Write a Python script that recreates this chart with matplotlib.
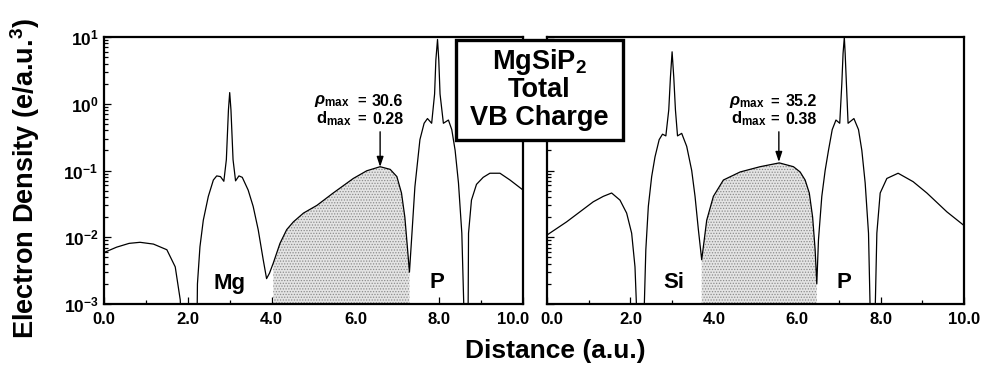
import matplotlib
matplotlib.use("Agg")
import matplotlib.pyplot as plt
import numpy as np
from matplotlib import font_manager
from matplotlib.patches import Rectangle
from matplotlib.transforms import ScaledTranslation
from matplotlib.ticker import LogLocator, MultipleLocator, FormatStrFormatter, NullFormatter

# ---------------- data ----------------
# left panel (Mg - P bond direction)
x_left = [0.0, 0.30, 0.60, 0.86, 1.18, 1.50, 1.70, 1.82, 1.95, 2.19, 2.23, 2.29, 2.37, 2.49, 2.61,
          2.69, 2.78, 2.86, 2.92, 2.97, 3.00, 3.03, 3.08, 3.14, 3.22, 3.30, 3.44, 3.56, 3.68,
          3.80, 3.88, 3.95, 4.04, 4.20, 4.36, 4.52, 4.76, 5.08, 5.47, 5.95, 6.27, 6.59, 6.83,
          6.99, 7.10, 7.18, 7.24, 7.29, 7.35, 7.42, 7.54, 7.64, 7.72, 7.82, 7.89, 7.92, 7.96,
          7.99, 8.02, 8.10, 8.22, 8.30, 8.38, 8.46, 8.54, 8.59, 8.65, 8.69, 8.70, 8.77, 8.89,
          9.05, 9.21, 9.45, 9.69, 10.0]
y_left = [0.0059, 0.0071, 0.0081, 0.0084, 0.0079, 0.0065, 0.0036, 0.00115, 1e-5, 1e-5, 0.0020, 0.0072,
          0.018, 0.041, 0.072, 0.083, 0.081, 0.069, 0.145, 0.81, 1.47, 0.81, 0.145, 0.070,
          0.083, 0.079, 0.051, 0.029, 0.013, 0.0046, 0.0024, 0.0029, 0.0041, 0.0081, 0.013,
          0.017, 0.023, 0.030, 0.046, 0.076, 0.099, 0.114, 0.104, 0.081, 0.046, 0.020, 0.0072,
          0.0030, 0.0115, 0.057, 0.29, 0.51, 0.60, 0.51, 1.4, 4.5, 9.2, 4.5, 1.4, 0.51, 0.57,
          0.41, 0.20, 0.065, 0.0115, 0.0008, 1e-5, 0.0008, 0.0115, 0.036, 0.062, 0.079, 0.091,
          0.091, 0.072, 0.051]
fill_left = (4.0, 7.29)

# right panel (Si - P bond direction)
x_right = [0.0, 0.47, 1.11, 1.35, 1.55, 1.75, 1.91, 2.03, 2.11, 2.15, 2.24, 2.33, 2.37, 2.43, 2.51,
           2.59, 2.69, 2.77, 2.85, 2.92, 2.96, 3.00, 3.04, 3.08, 3.13, 3.23, 3.35, 3.47, 3.55,
           3.63, 3.71, 3.77, 3.83, 3.99, 4.23, 4.63, 5.11, 5.57, 5.91, 6.07, 6.19, 6.29, 6.37,
           6.43, 6.47, 6.51, 6.59, 6.67, 6.75, 6.84, 6.93, 7.02, 7.07, 7.10, 7.13, 7.15, 7.18,
           7.22, 7.36, 7.47, 7.55, 7.63, 7.71, 7.75, 7.81, 7.87, 7.91, 7.99, 8.15, 8.42, 8.78,
           9.11, 9.59, 10.0]
y_right = [0.0108, 0.017, 0.034, 0.041, 0.046, 0.036, 0.023, 0.0115, 0.0036, 0.0008, 1e-5, 0.0008,
           0.0065, 0.029, 0.081, 0.16, 0.29, 0.35, 0.33, 0.81, 2.5, 6.0, 2.5, 0.81, 0.33, 0.36,
           0.23, 0.10, 0.041, 0.013, 0.0046, 0.0091, 0.018, 0.041, 0.072, 0.095, 0.114, 0.13,
           0.114, 0.095, 0.072, 0.046, 0.020, 0.0065, 0.0020, 0.0091, 0.041, 0.10, 0.20, 0.41,
           0.57, 0.51, 2.0, 5.7, 9.9, 5.7, 2.0, 0.51, 0.60, 0.41, 0.20, 0.065, 0.0115, 0.0008,
           1e-5, 0.0008, 0.0115, 0.046, 0.076, 0.091, 0.068, 0.046, 0.024, 0.015]
fill_right = (3.71, 6.47)

atoms_left = [("Mg", 2.99), ("P", 7.94)]
atoms_right = [("Si", 3.03), ("P", 7.11)]
ann_left = {"rho": "30.6", "d": "0.28", "xpeak": 6.59, "ypeak": 0.113}
ann_right = {"rho": "35.2", "d": "0.38", "xpeak": 5.56, "ypeak": 0.134}

# ---------------- fonts ----------------
names = {f.name for f in font_manager.fontManager.ttflist}
main_font = "Liberation Sans" if "Liberation Sans" in names else "DejaVu Sans"
narrow_font = "Liberation Sans Narrow" if "Liberation Sans Narrow" in names else main_font
plt.rcParams["font.family"] = [main_font, "DejaVu Sans"]
plt.rcParams["font.weight"] = "bold"
plt.rcParams["mathtext.fontset"] = "custom"
plt.rcParams["mathtext.rm"] = f"{main_font}:bold"
plt.rcParams["mathtext.bf"] = f"{main_font}:bold"
plt.rcParams["mathtext.it"] = f"{main_font}:italic:bold"
plt.rcParams["mathtext.default"] = "rm"
plt.rcParams["hatch.linewidth"] = 0.6

W, H = 982, 369
fig = plt.figure(figsize=(W / 100, H / 100), dpi=100)

def fx(px):
    return px / W

def fy(py):
    return 1 - py / H

ax_l = fig.add_axes([fx(104), fy(304), (523 - 104) / W, (304 - 37) / H])
ax_r = fig.add_axes([fx(547), fy(304), (964 - 547) / W, (304 - 37) / H])

def style(ax, show_ylabels):
    ax.set_yscale("log")
    ax.set_ylim(1e-3, 1e1)
    ax.set_xlim(0, 10)
    ax.xaxis.set_major_locator(MultipleLocator(2.0))
    ax.xaxis.set_minor_locator(MultipleLocator(1.0))
    ax.xaxis.set_major_formatter(FormatStrFormatter("%.1f"))
    ax.yaxis.set_major_locator(LogLocator(base=10, numticks=10))
    ax.yaxis.set_minor_locator(LogLocator(base=10, subs=np.arange(2, 10), numticks=20))
    ax.yaxis.set_minor_formatter(NullFormatter())
    ax.tick_params(axis="both", which="both", direction="in", top=False, right=False,
                   width=0.9, color="black")
    ax.tick_params(axis="both", which="major", length=5)
    ax.tick_params(axis="both", which="minor", length=3)
    ax.tick_params(axis="x", which="major", labelsize=12, pad=6)
    ax.tick_params(axis="y", which="major", labelsize=12.5, pad=4)
    if not show_ylabels:
        ax.yaxis.set_major_formatter(NullFormatter())
    for s in ax.spines.values():
        s.set_linewidth(1.6)

def draw(ax, xs, ys, frange, atoms, ann, x_rho, x_eq, x_val, y_rho, y_d):
    xs = np.array(xs)
    ys = np.array(ys)
    ax.plot(xs, ys, color="black", lw=0.9, zorder=3)
    m = (xs >= frange[0] - 1e-9) & (xs <= frange[1] + 1e-9)
    ax.fill_between(xs[m], 1e-3, ys[m], facecolor="#e4e4e4", edgecolor="#8c8c8c",
                    hatch="......", linewidth=0, zorder=2)
    for name, xa in atoms:
        ax.text(xa, 10 ** (1 - (283 - 37) / 66.75), name, ha="center", va="center",
                fontsize=16, fontweight="bold")
    ax.text(x_rho, y_rho, r"$\it{\rho}_{\rm max}$", ha="left", va="center", fontsize=12)
    ax.text(x_rho + 0.04, y_d, r"d$_{\rm max}$", ha="left", va="center", fontsize=12)
    ax.text(x_eq, y_rho, "=", ha="center", va="center", fontsize=10.5)
    ax.text(x_eq, y_d, "=", ha="center", va="center", fontsize=10.5)
    ax.text(x_val, y_rho, ann["rho"], ha="right", va="center", fontsize=11.5)
    ax.text(x_val, y_d, ann["d"], ha="right", va="center", fontsize=11.5)
    ax.annotate("", xy=(ann["xpeak"], ann["ypeak"]), xytext=(ann["xpeak"], 0.38),
                arrowprops=dict(arrowstyle="-|>,head_length=0.6,head_width=0.2",
                                color="black", lw=1.0, shrinkA=0, shrinkB=0))

style(ax_l, True)
style(ax_r, False)

def py2y(py):
    return 10 ** (1 - (py - 37) / 66.75)

draw(ax_l, x_left, y_left, fill_left, atoms_left, ann_left,
     x_rho=5.02, x_eq=6.16, x_val=7.14, y_rho=py2y(101), y_d=py2y(119))
draw(ax_r, x_right, y_right, fill_right, atoms_right, ann_right,
     x_rho=4.37, x_eq=5.47, x_val=6.47, y_rho=py2y(102), y_d=py2y(119))

# nudge the crowded tick labels at the gap between the panels
fig.canvas.draw()
lab_l = ax_l.xaxis.get_majorticklabels()
lab_r = ax_r.xaxis.get_majorticklabels()
for lab in lab_l:
    if lab.get_text() == "10.0":
        lab.set_transform(lab.get_transform() + ScaledTranslation(-9.5 / 100, 0, fig.dpi_scale_trans))
for lab in lab_r:
    if lab.get_text() == "0.0":
        lab.set_transform(lab.get_transform() + ScaledTranslation(4.5 / 100, 0, fig.dpi_scale_trans))

fig.text(fx(25), fy(178), "Electron Density (e/a.u.$^{3}$)", rotation=90,
         ha="center", va="center", fontsize=19.5, fontweight="bold")
fig.text(fx(555), fy(351), "Distance (a.u.)", ha="center", va="center",
         fontsize=19, fontweight="bold")

# title box
rect = Rectangle((fx(456), fy(140)), (623 - 456) / W, (140 - 40) / H,
                 transform=fig.transFigure, facecolor="white", edgecolor="black",
                 linewidth=2.4, zorder=5)
fig.add_artist(rect)
cx = fx(539.5)
fig.text(cx, fy(62), r"MgSiP$_{\rm 2}$", ha="center", va="center", fontsize=19.5,
         fontweight="bold", zorder=6)
fig.text(cx, fy(90), "Total", ha="center", va="center", fontsize=19.5,
         fontweight="bold", zorder=6)
fig.text(cx, fy(118), "VB Charge", ha="center", va="center", fontsize=19.5,
         fontweight="bold", zorder=6)

fig.savefig("out.png", dpi=100)
